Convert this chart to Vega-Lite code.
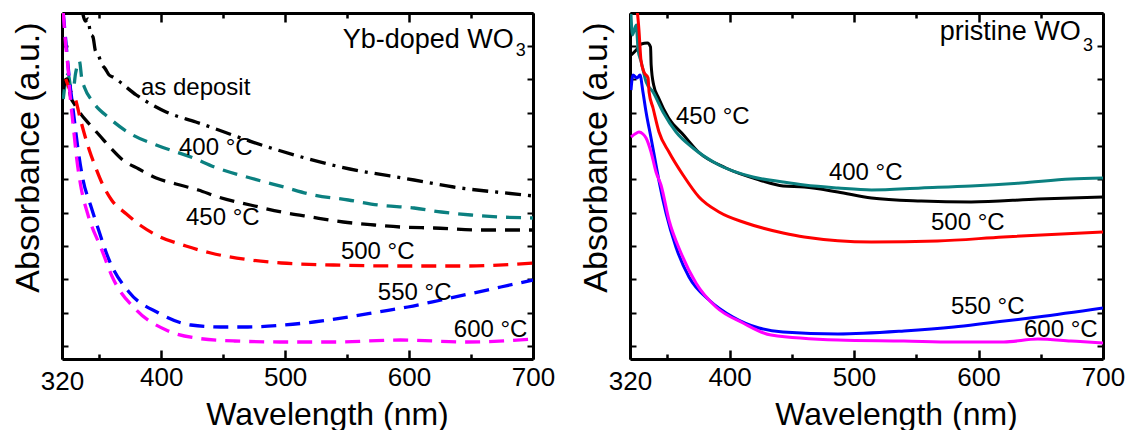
{
  "$schema": "https://vega.github.io/schema/vega-lite/v6.json",
  "padding": {"left": 10, "top": 11, "right": 0, "bottom": 0},
  "spacing": 23,
  "config": {
    "view": {"stroke": null},
    "axis": {"grid": false, "domainColor": "black", "tickColor": "black", "labelColor": "black", "titleColor": "black", "labelFont": "Liberation Sans", "titleFont": "Liberation Sans", "titleFontWeight": "normal"},
    "text": {"font": "Liberation Sans", "color": "black"}
  },
  "datasets": {
    "yb": [
      {"s": "as deposit", "w": 336, "a": 3.5}, {"s": "as deposit", "w": 339, "a": 3.38}, {"s": "as deposit", "w": 341, "a": 3.4}, {"s": "as deposit", "w": 343, "a": 3.25}, {"s": "as deposit", "w": 345, "a": 3.22}, {"s": "as deposit", "w": 347, "a": 3.08}, {"s": "as deposit", "w": 349, "a": 3.05}, {"s": "as deposit", "w": 352, "a": 2.95}, {"s": "as deposit", "w": 355, "a": 2.9}, {"s": "as deposit", "w": 358, "a": 2.84}, {"s": "as deposit", "w": 361, "a": 2.82}, {"s": "as deposit", "w": 380, "a": 2.64}, {"s": "as deposit", "w": 404, "a": 2.47}, {"s": "as deposit", "w": 428, "a": 2.37}, {"s": "as deposit", "w": 486, "a": 2.12}, {"s": "as deposit", "w": 545, "a": 1.92}, {"s": "as deposit", "w": 604, "a": 1.79}, {"s": "as deposit", "w": 636, "a": 1.72}, {"s": "as deposit", "w": 693, "a": 1.64}, {"s": "as deposit", "w": 700, "a": 1.63},
      {"s": "400", "w": 321, "a": 2.6}, {"s": "400", "w": 323, "a": 2.78}, {"s": "400", "w": 325, "a": 2.85}, {"s": "400", "w": 327, "a": 2.72}, {"s": "400", "w": 329, "a": 2.7}, {"s": "400", "w": 331, "a": 2.86}, {"s": "400", "w": 334, "a": 2.98}, {"s": "400", "w": 336, "a": 2.8}, {"s": "400", "w": 338, "a": 2.72}, {"s": "400", "w": 345, "a": 2.57}, {"s": "400", "w": 358, "a": 2.41}, {"s": "400", "w": 377, "a": 2.24}, {"s": "400", "w": 396, "a": 2.14}, {"s": "400", "w": 426, "a": 2.01}, {"s": "400", "w": 443, "a": 1.92}, {"s": "400", "w": 472, "a": 1.81}, {"s": "400", "w": 499, "a": 1.72}, {"s": "400", "w": 523, "a": 1.64}, {"s": "400", "w": 551, "a": 1.59}, {"s": "400", "w": 575, "a": 1.54}, {"s": "400", "w": 604, "a": 1.51}, {"s": "400", "w": 626, "a": 1.47}, {"s": "400", "w": 650, "a": 1.44}, {"s": "400", "w": 674, "a": 1.42}, {"s": "400", "w": 700, "a": 1.41},
      {"s": "450", "w": 321, "a": 2.7}, {"s": "450", "w": 324, "a": 2.8}, {"s": "450", "w": 327, "a": 2.62}, {"s": "450", "w": 330, "a": 2.55}, {"s": "450", "w": 334, "a": 2.47}, {"s": "450", "w": 342, "a": 2.35}, {"s": "450", "w": 350, "a": 2.24}, {"s": "450", "w": 360, "a": 2.1}, {"s": "450", "w": 369, "a": 1.99}, {"s": "450", "w": 382, "a": 1.9}, {"s": "450", "w": 396, "a": 1.81}, {"s": "450", "w": 412, "a": 1.75}, {"s": "450", "w": 430, "a": 1.69}, {"s": "450", "w": 446, "a": 1.62}, {"s": "450", "w": 472, "a": 1.54}, {"s": "450", "w": 497, "a": 1.47}, {"s": "450", "w": 521, "a": 1.42}, {"s": "450", "w": 547, "a": 1.37}, {"s": "450", "w": 572, "a": 1.34}, {"s": "450", "w": 593, "a": 1.32}, {"s": "450", "w": 620, "a": 1.31}, {"s": "450", "w": 658, "a": 1.29}, {"s": "450", "w": 700, "a": 1.29},
      {"s": "500", "w": 323, "a": 2.8}, {"s": "500", "w": 326, "a": 2.7}, {"s": "500", "w": 331, "a": 2.59}, {"s": "500", "w": 335, "a": 2.39}, {"s": "500", "w": 342, "a": 2.09}, {"s": "500", "w": 347, "a": 1.92}, {"s": "500", "w": 353, "a": 1.74}, {"s": "500", "w": 360, "a": 1.59}, {"s": "500", "w": 372, "a": 1.45}, {"s": "500", "w": 384, "a": 1.33}, {"s": "500", "w": 396, "a": 1.24}, {"s": "500", "w": 420, "a": 1.13}, {"s": "500", "w": 440, "a": 1.06}, {"s": "500", "w": 472, "a": 0.99}, {"s": "500", "w": 497, "a": 0.96}, {"s": "500", "w": 539, "a": 0.94}, {"s": "500", "w": 593, "a": 0.93}, {"s": "500", "w": 647, "a": 0.93}, {"s": "500", "w": 700, "a": 0.96},
      {"s": "550", "w": 321, "a": 3.46}, {"s": "550", "w": 323, "a": 3.19}, {"s": "550", "w": 325.6, "a": 2.84}, {"s": "550", "w": 329, "a": 2.49}, {"s": "550", "w": 333, "a": 2.09}, {"s": "550", "w": 337, "a": 1.79}, {"s": "550", "w": 343, "a": 1.54}, {"s": "550", "w": 349, "a": 1.31}, {"s": "550", "w": 358, "a": 0.99}, {"s": "550", "w": 374, "a": 0.67}, {"s": "550", "w": 398, "a": 0.46}, {"s": "550", "w": 424, "a": 0.34}, {"s": "550", "w": 448, "a": 0.32}, {"s": "550", "w": 470, "a": 0.32}, {"s": "550", "w": 499, "a": 0.34}, {"s": "550", "w": 523, "a": 0.37}, {"s": "550", "w": 551, "a": 0.42}, {"s": "550", "w": 575, "a": 0.47}, {"s": "550", "w": 599, "a": 0.52}, {"s": "550", "w": 626, "a": 0.59}, {"s": "550", "w": 652, "a": 0.66}, {"s": "550", "w": 674, "a": 0.72}, {"s": "550", "w": 700, "a": 0.79},
      {"s": "600", "w": 321, "a": 3.46}, {"s": "600", "w": 323, "a": 3.14}, {"s": "600", "w": 325, "a": 2.89}, {"s": "600", "w": 326.5, "a": 2.64}, {"s": "600", "w": 329, "a": 2.34}, {"s": "600", "w": 332, "a": 1.99}, {"s": "600", "w": 335, "a": 1.74}, {"s": "600", "w": 341, "a": 1.44}, {"s": "600", "w": 351.5, "a": 1.11}, {"s": "600", "w": 361, "a": 0.81}, {"s": "600", "w": 380, "a": 0.49}, {"s": "600", "w": 404, "a": 0.29}, {"s": "600", "w": 428, "a": 0.21}, {"s": "600", "w": 459, "a": 0.18}, {"s": "600", "w": 499, "a": 0.17}, {"s": "600", "w": 539, "a": 0.17}, {"s": "600", "w": 593, "a": 0.19}, {"s": "600", "w": 647, "a": 0.17}, {"s": "600", "w": 700, "a": 0.2}
    ],
    "pr": [
      {"s": "450", "w": 321, "a": 3.04}, {"s": "450", "w": 325, "a": 3.09}, {"s": "450", "w": 329, "a": 3.15}, {"s": "450", "w": 334, "a": 3.16}, {"s": "450", "w": 336.5, "a": 3.12}, {"s": "450", "w": 337, "a": 2.94}, {"s": "450", "w": 339, "a": 2.74}, {"s": "450", "w": 343, "a": 2.61}, {"s": "450", "w": 351, "a": 2.41}, {"s": "450", "w": 363, "a": 2.24}, {"s": "450", "w": 375, "a": 2.07}, {"s": "450", "w": 397, "a": 1.91}, {"s": "450", "w": 424, "a": 1.79}, {"s": "450", "w": 443, "a": 1.73}, {"s": "450", "w": 460, "a": 1.72}, {"s": "450", "w": 487, "a": 1.67}, {"s": "450", "w": 514, "a": 1.61}, {"s": "450", "w": 554, "a": 1.58}, {"s": "450", "w": 594, "a": 1.57}, {"s": "450", "w": 648, "a": 1.6}, {"s": "450", "w": 700, "a": 1.62},
      {"s": "400", "w": 320.8, "a": 3.45}, {"s": "400", "w": 322, "a": 3.24}, {"s": "400", "w": 325, "a": 3.34}, {"s": "400", "w": 326.5, "a": 3.09}, {"s": "400", "w": 329, "a": 2.97}, {"s": "400", "w": 333, "a": 2.77}, {"s": "400", "w": 338.5, "a": 2.67}, {"s": "400", "w": 346.5, "a": 2.47}, {"s": "400", "w": 357, "a": 2.27}, {"s": "400", "w": 370.6, "a": 2.11}, {"s": "400", "w": 391.5, "a": 1.94}, {"s": "400", "w": 418.8, "a": 1.82}, {"s": "400", "w": 443, "a": 1.77}, {"s": "400", "w": 460, "a": 1.74}, {"s": "400", "w": 487, "a": 1.71}, {"s": "400", "w": 514, "a": 1.69}, {"s": "400", "w": 554, "a": 1.71}, {"s": "400", "w": 594, "a": 1.73}, {"s": "400", "w": 634, "a": 1.76}, {"s": "400", "w": 674, "a": 1.8}, {"s": "400", "w": 700, "a": 1.81},
      {"s": "500", "w": 324, "a": 3.6}, {"s": "500", "w": 326, "a": 3.46}, {"s": "500", "w": 327.2, "a": 3.29}, {"s": "500", "w": 328.8, "a": 2.99}, {"s": "500", "w": 331.2, "a": 2.87}, {"s": "500", "w": 334.5, "a": 2.81}, {"s": "500", "w": 335.3, "a": 2.67}, {"s": "500", "w": 338.5, "a": 2.51}, {"s": "500", "w": 343.3, "a": 2.27}, {"s": "500", "w": 351.3, "a": 2.07}, {"s": "500", "w": 362.6, "a": 1.84}, {"s": "500", "w": 375.4, "a": 1.62}, {"s": "500", "w": 391.5, "a": 1.47}, {"s": "500", "w": 413.2, "a": 1.36}, {"s": "500", "w": 443, "a": 1.26}, {"s": "500", "w": 460, "a": 1.22}, {"s": "500", "w": 514, "a": 1.17}, {"s": "500", "w": 567, "a": 1.18}, {"s": "500", "w": 620, "a": 1.22}, {"s": "500", "w": 700, "a": 1.27},
      {"s": "550", "w": 320.8, "a": 2.69}, {"s": "550", "w": 322.4, "a": 2.84}, {"s": "550", "w": 325.6, "a": 2.81}, {"s": "550", "w": 328, "a": 2.84}, {"s": "550", "w": 330.4, "a": 2.67}, {"s": "550", "w": 332.9, "a": 2.47}, {"s": "550", "w": 336.9, "a": 2.21}, {"s": "550", "w": 340.9, "a": 1.94}, {"s": "550", "w": 343.3, "a": 1.78}, {"s": "550", "w": 348.9, "a": 1.46}, {"s": "550", "w": 356.9, "a": 1.12}, {"s": "550", "w": 367.4, "a": 0.82}, {"s": "550", "w": 383.5, "a": 0.59}, {"s": "550", "w": 402.7, "a": 0.42}, {"s": "550", "w": 423.6, "a": 0.31}, {"s": "550", "w": 442.9, "a": 0.27}, {"s": "550", "w": 487.1, "a": 0.25}, {"s": "550", "w": 540.1, "a": 0.28}, {"s": "550", "w": 580.2, "a": 0.32}, {"s": "550", "w": 607.6, "a": 0.36}, {"s": "550", "w": 647.7, "a": 0.42}, {"s": "550", "w": 700, "a": 0.51},
      {"s": "600", "w": 320.8, "a": 2.22}, {"s": "600", "w": 324, "a": 2.25}, {"s": "600", "w": 327.2, "a": 2.27}, {"s": "600", "w": 330.4, "a": 2.25}, {"s": "600", "w": 332.9, "a": 2.21}, {"s": "600", "w": 336.9, "a": 2.07}, {"s": "600", "w": 340.9, "a": 1.87}, {"s": "600", "w": 344.9, "a": 1.74}, {"s": "600", "w": 351.3, "a": 1.39}, {"s": "600", "w": 361, "a": 1.06}, {"s": "600", "w": 373, "a": 0.76}, {"s": "600", "w": 389.1, "a": 0.52}, {"s": "600", "w": 410.8, "a": 0.36}, {"s": "600", "w": 433.3, "a": 0.24}, {"s": "600", "w": 487.1, "a": 0.19}, {"s": "600", "w": 540.1, "a": 0.18}, {"s": "600", "w": 580.2, "a": 0.17}, {"s": "600", "w": 620.4, "a": 0.17}, {"s": "600", "w": 647.7, "a": 0.2}, {"s": "600", "w": 674.2, "a": 0.18}, {"s": "600", "w": 700, "a": 0.16}
    ],
    "ybNote": [
      {"k": "label", "t": "as deposit", "w": 383.7, "a": 2.71},
      {"k": "label", "t": "400 °C", "w": 414.4, "a": 2.11},
      {"k": "label", "t": "450 °C", "w": 420, "a": 1.41},
      {"k": "label", "t": "500 °C", "w": 545, "a": 1.07},
      {"k": "label", "t": "550 °C", "w": 574.8, "a": 0.66},
      {"k": "label", "t": "600 °C", "w": 636.1, "a": 0.29},
      {"k": "title", "t": "Yb-doped WO", "w": 684.5, "a": 3.19},
      {"k": "sub", "t": "3", "w": 686, "a": 3.08}
    ],
    "prNote": [
      {"k": "label", "t": "450 °C", "w": 356.9, "a": 2.42},
      {"k": "label", "t": "400 °C", "w": 479.8, "a": 1.86},
      {"k": "label", "t": "500 °C", "w": 561.8, "a": 1.36},
      {"k": "label", "t": "550 °C", "w": 577.8, "a": 0.52},
      {"k": "label", "t": "600 °C", "w": 636.5, "a": 0.29},
      {"k": "title", "t": "pristine WO", "w": 682.2, "a": 3.27},
      {"k": "sub", "t": "3", "w": 683.9, "a": 3.13}
    ]
  },
  "hconcat": [
    {
      "width": 471, "height": 346,
      "layer": [
        {
          "data": {"name": "yb"},
          "mark": {"type": "line", "clip": true, "strokeWidth": 3.3, "interpolate": "monotone"},
          "encoding": {
            "x": {"field": "w", "type": "quantitative", "scale": {"domain": [320, 700], "nice": false, "zero": false},
              "axis": {"orient": "bottom", "values": [320, 350, 400, 450, 500, 550, 600, 650, 700], "labelExpr": "datum.value % 100 == 0 || datum.value == 320 ? datum.label : ''", "tickSize": {"condition": {"test": "datum.value % 100 == 0", "value": -9}, "value": -5}, "tickWidth": 2.5, "domainWidth": 3, "labelFontSize": 26, "labelPadding": 14, "labelFlush": false, "title": "Wavelength (nm)", "titleFontSize": 32, "titleX": 265, "titleY": 55, "titleBaseline": "middle", "titleAlign": "center"}},
            "y": {"field": "a", "type": "quantitative", "scale": {"domain": [0, 3.46], "nice": false, "zero": false},
              "axis": {"orient": "left", "values": [0.13, 0.463, 0.797, 1.13, 1.463, 1.797, 2.13, 2.463, 2.797, 3.13, 3.46], "labels": false, "tickSize": -6, "tickWidth": 2, "domainWidth": 3, "title": "Absorbance (a.u.)", "titleFontSize": 34, "titleX": -34, "titleY": 144, "titleAngle": -90, "titleBaseline": "middle", "titleAlign": "center"}},
            "color": {"field": "s", "type": "nominal", "scale": {"domain": ["as deposit", "400", "450", "500", "550", "600"], "range": ["#000000", "#0b8080", "#000000", "#ff0000", "#0000ff", "#ff00ff"]}, "legend": null},
            "strokeDash": {"field": "s", "type": "nominal", "scale": {"domain": ["as deposit", "400", "450", "500", "550", "600"], "range": [[16, 7, 3, 7], [15, 9], [15, 9], [15, 9], [15, 9], [15, 9]]}, "legend": null}
          }
        },
        {
          "data": {"name": "ybNote"},
          "transform": [{"filter": "datum.k == 'label'"}],
          "mark": {"type": "text", "align": "left", "baseline": "middle", "fontSize": 24},
          "encoding": {
            "x": {"field": "w", "type": "quantitative", "axis": {"orient": "top", "values": [320, 350, 400, 450, 500, 550, 600, 650, 700], "labels": false, "title": null, "tickSize": {"condition": {"test": "datum.value % 100 == 0", "value": -9}, "value": -5}, "tickWidth": 2.5, "domainWidth": 3}},
            "y": {"field": "a", "type": "quantitative", "axis": {"orient": "right", "values": [0.13, 0.463, 0.797, 1.13, 1.463, 1.797, 2.13, 2.463, 2.797, 3.13, 3.46], "labels": false, "title": null, "tickSize": -6, "tickWidth": 2, "domainWidth": 3}},
            "text": {"field": "t"}
          }
        },
        {
          "data": {"name": "ybNote"},
          "transform": [{"filter": "datum.k == 'title'"}],
          "mark": {"type": "text", "align": "right", "baseline": "middle", "fontSize": 27},
          "encoding": {
            "x": {"field": "w", "type": "quantitative", "axis": null},
            "y": {"field": "a", "type": "quantitative", "axis": null},
            "text": {"field": "t"}
          }
        },
        {
          "data": {"name": "ybNote"},
          "transform": [{"filter": "datum.k == 'sub'"}],
          "mark": {"type": "text", "align": "left", "baseline": "middle", "fontSize": 18},
          "encoding": {
            "x": {"field": "w", "type": "quantitative", "axis": null},
            "y": {"field": "a", "type": "quantitative", "axis": null},
            "text": {"field": "t"}
          }
        }
      ],
      "resolve": {"axis": {"x": "independent", "y": "independent"}}
    },
    {
      "width": 473, "height": 346,
      "layer": [
        {
          "data": {"name": "pr"},
          "mark": {"type": "line", "clip": true, "strokeWidth": 3, "interpolate": "monotone"},
          "encoding": {
            "x": {"field": "w", "type": "quantitative", "scale": {"domain": [320, 700], "nice": false, "zero": false},
              "axis": {"orient": "bottom", "values": [320, 350, 400, 450, 500, 550, 600, 650, 700], "labelExpr": "datum.value % 100 == 0 || datum.value == 320 ? datum.label : ''", "tickSize": {"condition": {"test": "datum.value % 100 == 0", "value": -9}, "value": -5}, "tickWidth": 2.5, "domainWidth": 3, "labelFontSize": 26, "labelPadding": 14, "labelFlush": false, "title": "Wavelength (nm)", "titleFontSize": 32, "titleX": 266, "titleY": 55, "titleBaseline": "middle", "titleAlign": "center"}},
            "y": {"field": "a", "type": "quantitative", "scale": {"domain": [0, 3.46], "nice": false, "zero": false},
              "axis": {"orient": "left", "values": [0.13, 0.463, 0.797, 1.13, 1.463, 1.797, 2.13, 2.463, 2.797, 3.13, 3.46], "labels": false, "tickSize": -6, "tickWidth": 2, "domainWidth": 3, "title": "Absorbance (a.u.)", "titleFontSize": 34, "titleX": -34, "titleY": 144, "titleAngle": -90, "titleBaseline": "middle", "titleAlign": "center"}},
            "color": {"field": "s", "type": "nominal", "scale": {"domain": ["450", "400", "500", "550", "600"], "range": ["#000000", "#0b8080", "#ff0000", "#0000ff", "#ff00ff"]}, "legend": null}
          }
        },
        {
          "data": {"name": "prNote"},
          "transform": [{"filter": "datum.k == 'label'"}],
          "mark": {"type": "text", "align": "left", "baseline": "middle", "fontSize": 24},
          "encoding": {
            "x": {"field": "w", "type": "quantitative", "axis": {"orient": "top", "values": [320, 350, 400, 450, 500, 550, 600, 650, 700], "labels": false, "title": null, "tickSize": {"condition": {"test": "datum.value % 100 == 0", "value": -9}, "value": -5}, "tickWidth": 2.5, "domainWidth": 3}},
            "y": {"field": "a", "type": "quantitative", "axis": {"orient": "right", "values": [0.13, 0.463, 0.797, 1.13, 1.463, 1.797, 2.13, 2.463, 2.797, 3.13, 3.46], "labels": false, "title": null, "tickSize": -6, "tickWidth": 2, "domainWidth": 3}},
            "text": {"field": "t"}
          }
        },
        {
          "data": {"name": "prNote"},
          "transform": [{"filter": "datum.k == 'title'"}],
          "mark": {"type": "text", "align": "right", "baseline": "middle", "fontSize": 27},
          "encoding": {
            "x": {"field": "w", "type": "quantitative", "axis": null},
            "y": {"field": "a", "type": "quantitative", "axis": null},
            "text": {"field": "t"}
          }
        },
        {
          "data": {"name": "prNote"},
          "transform": [{"filter": "datum.k == 'sub'"}],
          "mark": {"type": "text", "align": "left", "baseline": "middle", "fontSize": 18},
          "encoding": {
            "x": {"field": "w", "type": "quantitative", "axis": null},
            "y": {"field": "a", "type": "quantitative", "axis": null},
            "text": {"field": "t"}
          }
        }
      ],
      "resolve": {"axis": {"x": "independent", "y": "independent"}}
    }
  ]
}
